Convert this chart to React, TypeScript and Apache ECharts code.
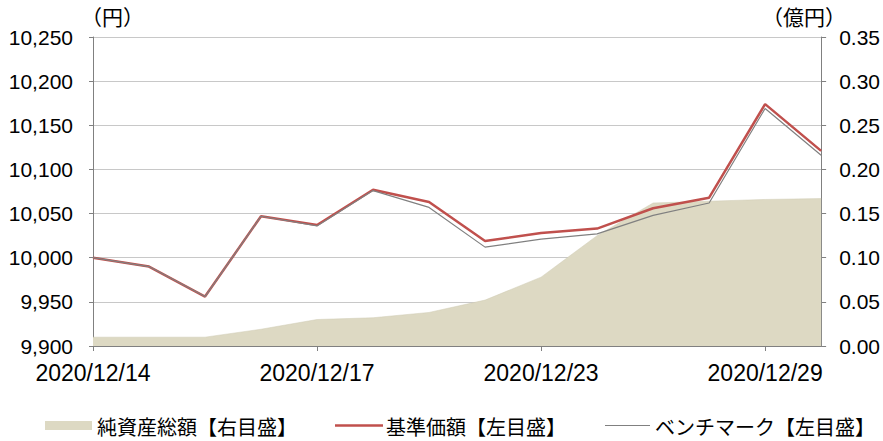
import React, { useEffect, useRef } from "react";
import * as echarts from "echarts";

const categories = [
  "2020/12/14", "2020/12/14", "2020/12/15", "2020/12/16", "2020/12/17",
  "2020/12/18", "2020/12/21", "2020/12/22", "2020/12/23", "2020/12/24",
  "2020/12/25", "2020/12/28", "2020/12/29", "2020/12/30",
];
const basePrice = [10000, 9990, 9956, 10047, 10037, 10077, 10063, 10019, 10028, 10033, 10056, 10068, 10174, 10121];
const benchmark = [10000, 9990, 9956, 10047, 10036, 10076, 10057, 10012, 10021, 10027, 10048, 10062, 10169, 10116];
const netAssets = [0.01, 0.01, 0.01, 0.019, 0.03, 0.032, 0.038, 0.052, 0.078, 0.125, 0.162, 0.164, 0.166, 0.167];

const seriesNames = ["純資産総額【右目盛】", "基準価額【左目盛】", "ベンチマーク【左目盛】"];
const leftUnit = "（円）";
const rightUnit = "（億円）";

const FONT = "'Liberation Sans', Arial, 'Noto Sans CJK JP', sans-serif";
const CJK = "'Noto Sans CJK JP', sans-serif";

const AREA_COLOR = "#DDD9C3";
const RED = "#C0504D";
const GREY = "#808080";

export default function App() {
  const ref = useRef<HTMLDivElement>(null);
  useEffect(() => {
    if (!ref.current) return;
    const chart = echarts.init(ref.current, undefined, { renderer: "svg" });
    const legendFont = `20px ${CJK}`;
    chart.setOption({
      animation: false,
      backgroundColor: "#ffffff",
      grid: { left: 93, right: 61, top: 37, bottom: 95 },
      graphic: [
        { type: "text", x: 81, y: 16, style: { text: leftUnit, font: `21px ${CJK}`, fill: "#000", verticalAlign: "middle" } },
        { type: "text", x: 762, y: 16, style: { text: rightUnit, font: `21px ${CJK}`, fill: "#000", verticalAlign: "middle" } },
        // legend
        { type: "rect", shape: { x: 45, y: 421, width: 47, height: 9 }, style: { fill: AREA_COLOR } },
        { type: "text", x: 97, y: 426, style: { text: seriesNames[0], font: legendFont, fill: "#000", verticalAlign: "middle" } },
        { type: "line", shape: { x1: 335, y1: 425.5, x2: 383, y2: 425.5 }, style: { stroke: RED, lineWidth: 2.5 } },
        { type: "text", x: 386, y: 426, style: { text: seriesNames[1], font: legendFont, fill: "#000", verticalAlign: "middle" } },
        { type: "line", shape: { x1: 605, y1: 425.5, x2: 650, y2: 425.5 }, style: { stroke: GREY, lineWidth: 1.2 } },
        { type: "text", x: 655, y: 426, style: { text: seriesNames[2], font: legendFont, fill: "#000", verticalAlign: "middle" } },
      ],
      xAxis: {
        type: "category",
        data: categories,
        boundaryGap: false,
        axisLine: { lineStyle: { color: GREY, width: 1 } },
        axisTick: { interval: 3, length: 5, lineStyle: { color: GREY } },
        axisLabel: { interval: 3, color: "#000", fontFamily: FONT, fontSize: 23, margin: 15 },
      },
      yAxis: [
        {
          type: "value",
          min: 9900,
          max: 10250,
          interval: 50,
          axisLine: { show: true, lineStyle: { color: GREY } },
          axisTick: { show: true, length: 4, lineStyle: { color: GREY } },
          axisLabel: {
            color: "#000",
            fontFamily: FONT,
            fontSize: 21,
            margin: 20,
            formatter: (v: number) => v.toLocaleString("en-US"),
          },
          splitLine: { lineStyle: { color: "#C8C8C8", width: 1 } },
        },
        {
          type: "value",
          min: 0,
          max: 0.35,
          interval: 0.05,
          position: "right",
          axisLine: { show: true, lineStyle: { color: GREY } },
          axisTick: { show: true, length: 5, lineStyle: { color: GREY } },
          axisLabel: {
            color: "#000",
            fontFamily: FONT,
            fontSize: 21,
            margin: 18,
            formatter: (v: number) => v.toFixed(2),
          },
          splitLine: { show: false },
        },
      ],
      series: [
        {
          name: seriesNames[0],
          type: "line",
          yAxisIndex: 1,
          data: netAssets,
          symbol: "none",
          itemStyle: { color: AREA_COLOR },
          lineStyle: { width: 0.5, color: "#CFCAB2" },
          areaStyle: { color: AREA_COLOR, opacity: 1 },
          z: 1,
        },
        {
          name: seriesNames[1],
          type: "line",
          data: basePrice,
          symbol: "none",
          itemStyle: { color: RED },
          lineStyle: { width: 2.5, color: RED },
          z: 2,
        },
        {
          name: seriesNames[2],
          type: "line",
          data: benchmark,
          symbol: "none",
          itemStyle: { color: GREY },
          lineStyle: { width: 1.2, color: GREY },
          z: 3,
        },
      ],
    });
    return () => chart.dispose();
  }, []);
  return <div ref={ref} style={{ position: "fixed", left: 0, top: 0, width: 883, height: 441 }} />;
}
